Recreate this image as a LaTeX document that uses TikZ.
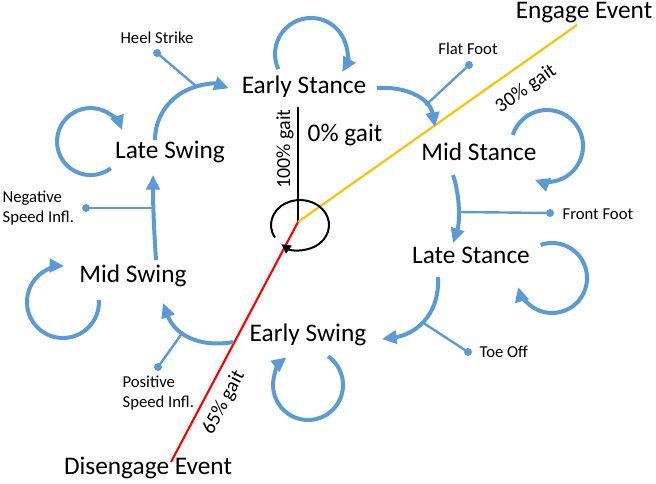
\documentclass[tikz,border=0pt]{standalone}
\usepackage{fontspec}
\setmainfont{Carlito}
\usetikzlibrary{arrows.meta}
\definecolor{gblue}{HTML}{5B9BD5}
\definecolor{gorange}{HTML}{FFC000}
\tikzset{trans/.style={draw=gblue, line width=3pt, -{Triangle[length=11pt,width=10pt]}},
  branch/.style={draw=gblue, line width=1.8pt},
  dotnode/.style={circle, fill=gblue, inner sep=0pt, minimum size=6pt},
  phase/.style={font=\fontsize{19}{21}\selectfont, inner sep=1pt},
  cond/.style={font=\fontsize{12.5}{15}\selectfont, inner sep=1pt, align=left},
  pct/.style={font=\fontsize{15}{17}\selectfont, inner sep=1pt},
  cyc/.style={line width=1.5pt, -{Triangle[length=7pt,width=7pt]}}}

\begin{document}
\begin{tikzpicture}[x=0.75pt, y=-0.75pt]
  \useasboundingbox (0,0) rectangle (656,483);
  % gait phases
  \node[phase] (es) at (304,87) {Early Stance};
  \node[phase] (ms) at (479,152) {Mid Stance};
  \node[phase] (lst) at (471,255) {Late Stance};
  \node[phase] (esw) at (308,335) {Early Swing};
  \node[phase] (msw) at (133,276) {Mid Swing};
  \node[phase] (lsw) at (170,152) {Late Swing};
  \node[phase] (engage) at (584,13) {Engage Event};
  \node[phase] (disengage) at (148,468) {Disengage Event};
  % gait percentage lines
  \coordinate (hub) at (298,222);
  \coordinate (top) at (298,107);
  \coordinate (engend) at (577,25);
  \coordinate (disend) at (171,462);
  \draw[line width=1.5pt] (hub) -- (top);
  \draw[gorange, line width=1.6pt] (hub) -- (engend);
  \draw[red, line width=1.6pt] (hub) -- (disend);
  \coordinate (cycstart) at (274.9,237.5);
  \draw[cyc] (cycstart) arc[start angle=150, end angle=490, x radius=29, y radius=25];
  \node[phase] (g0) at (345,135) {0\% gait};
  \node[pct, rotate=90] (g100) at (285,149) {100\% gait};
  \node[pct, rotate=35] (g30) at (526,89) {30\% gait};
  \node[pct, rotate=62] (g65) at (224,403) {65\% gait};
  % self loops
  \coordinate (esloop) at (278.4,69.2);
  \coordinate (msloop) at (512.8,134.9);
  \coordinate (lstloop) at (540.6,244.9);
  \coordinate (eswloop) at (328.1,356.3);
  \coordinate (mswloop) at (98.9,300.1);
  \coordinate (lswloop) at (110.7,168.3);
  \draw[trans] (esloop) arc[start angle=155, end angle=390, radius=36];
  \draw[trans] (msloop) arc[start angle=198, end angle=470, radius=36];
  \draw[trans] (lstloop) arc[start angle=251, end angle=525, radius=35];
  \draw[trans] (eswloop) arc[start angle=-55, end angle=232, radius=35];
  \draw[trans] (mswloop) arc[start angle=-3, end angle=272, radius=36];
  \draw[trans] (lswloop) arc[start angle=53, end angle=340, radius=33.5];
  % transitions
  \coordinate (lswout) at (155,140);
  \coordinate (esout) at (377,88);
  \coordinate (esin) at (435,127);
  \coordinate (msout) at (453,175);
  \coordinate (lstin) at (453,243);
  \coordinate (lstout) at (438,277);
  \coordinate (eswin) at (382,339);
  \coordinate (eswout) at (233,342);
  \coordinate (mswin) at (163,303);
  \coordinate (mswout) at (156,260);
  \coordinate (lswin) at (153,175);
  \draw[trans] (lswout) arc[start angle=180, end angle=290, radius=55];
  \draw[trans] (esout) .. controls (405,86) and (430,98) .. (esin);
  \draw[trans] (msout) .. controls (460,195) and (460,222) .. (lstin);
  \draw[trans] (lstout) .. controls (440,318) and (412,335) .. (eswin);
  \draw[trans] (eswout) .. controls (200,348) and (175,335) .. (mswin);
  \draw[trans] (mswout) .. controls (154,230) and (153,205) .. (lswin);
  % events
  \coordinate (hsj) at (196.7,86.6);
  \coordinate (ffj) at (425.5,105.4);
  \coordinate (frj) at (458,212);
  \coordinate (toj) at (422,322);
  \coordinate (psj) at (183,332);
  \coordinate (nsj) at (153.5,208);
  \node[dotnode] (hsdot) at (157,53) {};
  \node[dotnode] (ffdot) at (469,65) {};
  \node[dotnode] (frdot) at (550,213) {};
  \node[dotnode] (todot) at (468,352) {};
  \node[dotnode] (psdot) at (158,367) {};
  \node[dotnode] (nsdot) at (86,208) {};
  \draw[branch] (hsdot.center) -- (hsj);
  \draw[branch] (ffdot.center) -- (ffj);
  \draw[branch] (frdot.center) -- (frj);
  \draw[branch] (todot.center) -- (toj);
  \draw[branch] (psdot.center) -- (psj);
  \draw[branch] (nsdot.center) -- (nsj);
  \node[cond] (hs) at (157,38) {Heel Strike};
  \node[cond] (ff) at (468,49) {Flat Foot};
  \node[cond, anchor=west] (fr) at (561,214) {Front Foot};
  \node[cond, anchor=west] (to) at (478,352) {Toe Off};
  \node[cond, anchor=west] (ps) at (121,393) {Positive\\Speed Infl.};
  \node[cond, anchor=west] (ns) at (1,208) {Negative\\Speed Infl.};
\end{tikzpicture}
\end{document}
